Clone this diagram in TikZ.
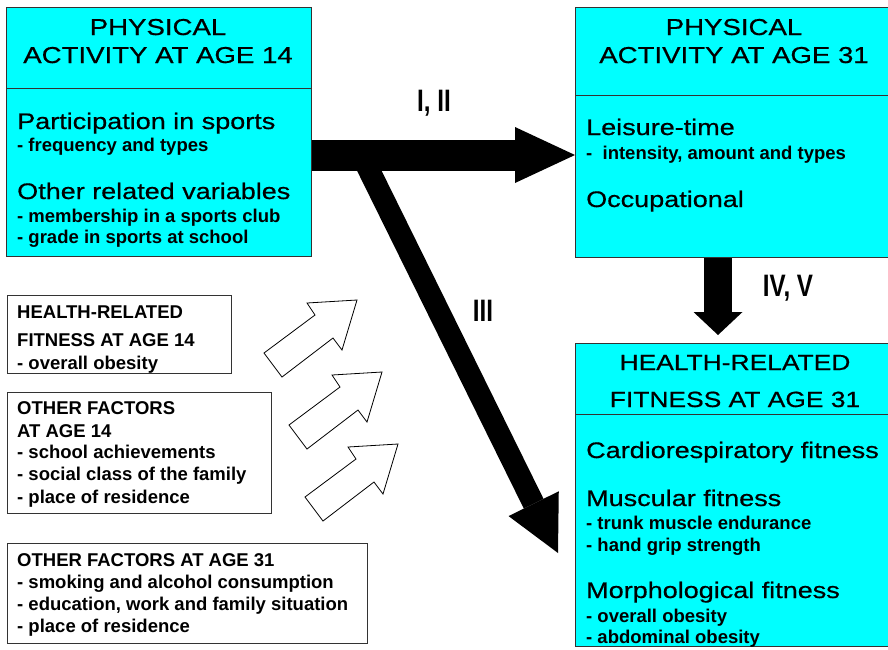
\documentclass[tikz,border=0pt]{standalone}
\usepackage{fontspec}
\setmainfont{Liberation Sans}
\newfontfamily\widesans{Liberation Sans}[FakeStretch=1.2, FakeBold=0.6]
\newfontfamily\narrowsans{Liberation Sans}[FakeStretch=0.78]
\usetikzlibrary{arrows.meta}
\definecolor{boxcyan}{RGB}{0,255,255}

\tikzset{
  cyanbox/.style={draw=black!80, line width=1pt, fill=boxcyan, inner sep=0pt, anchor=north west},
  plainbox/.style={draw=black!80, line width=1pt, fill=white, inner sep=0pt, anchor=north west},
  boxtitle/.style={font=\widesans\fontsize{23}{28}\selectfont, anchor=base, inner sep=0pt},
  hrftitle/.style={boxtitle, font=\widesans\fontsize{22}{27}\selectfont},
  boxhead/.style={font=\widesans\fontsize{22.5}{27}\selectfont, anchor=base west, inner sep=0pt},
  boxitem/.style={font=\bfseries\fontsize{18.5}{22}\selectfont, anchor=base west, inner sep=0pt},
  pathlabel/.style={font=\narrowsans\bfseries\fontsize{31}{36}\selectfont, inner sep=0pt},
  hollowarrow/.style={draw=black, line width=0.8pt, fill=white, line join=miter},
}

\begin{document}
\begin{tikzpicture}[x=1pt, y=-1pt]
\useasboundingbox (0,0) rectangle (888,649);

% boxes
\node[cyanbox, minimum width=305pt, minimum height=249pt] (pa14) at (6,7) {};
\node[cyanbox, minimum width=320pt, minimum height=250pt] (pa31) at (575,7) {};
\node[cyanbox, minimum width=320pt, minimum height=303pt] (hrf31) at (575,343) {};
\node[plainbox, minimum width=224pt, minimum height=78pt] (hrf14) at (7,295) {};
\node[plainbox, minimum width=264pt, minimum height=121pt] (oth14) at (7,392) {};
\node[plainbox, minimum width=360pt, minimum height=100pt] (oth31) at (7,543) {};
\draw[black!80, line width=1pt] ([yshift=-81pt]pa14.north west) -- ([yshift=-81pt]pa14.north east);
\draw[black!80, line width=1pt] ([yshift=-88pt]pa31.north west) -- ([yshift=-88pt]pa31.north east);
\draw[black!80, line width=1pt] ([yshift=-71pt]hrf31.north west) -- ([yshift=-71pt]hrf31.north east);

% physical activity at 14
\node[boxtitle] (pa14t1) at (158,35) {PHYSICAL};
\node[boxtitle] (pa14t2) at (158,63) {ACTIVITY AT AGE 14};
\node[boxhead] (pa14h1) at (17,129) {Participation in sports};
\node[boxitem] (pa14i1) at (17,151) {- frequency and types};
\node[boxhead] (pa14h2) at (17,199) {Other related variables};
\node[boxitem] (pa14i2) at (17,222) {- membership in a sports club};
\node[boxitem] (pa14i3) at (17,243) {- grade in sports at school};

% physical activity at 31
\node[boxtitle] (pa31t1) at (734,35) {PHYSICAL};
\node[boxtitle] (pa31t2) at (734,63) {ACTIVITY AT AGE 31};
\node[boxhead] (pa31h1) at (586,135) {Leisure-time};
\node[boxitem] (pa31i1) at (586,159) {-~ intensity, amount and types};
\node[boxhead] (pa31h2) at (586,207) {Occupational};

% fitness at 31
\node[hrftitle] (hrf31t1) at (735,370) {HEALTH-RELATED};
\node[hrftitle] (hrf31t2) at (735,407) {FITNESS AT AGE 31};
\node[boxhead] (hrf31h1) at (586,458) {Cardiorespiratory fitness};
\node[boxhead] (hrf31h2) at (586,506) {Muscular fitness};
\node[boxitem] (hrf31i1) at (586,529) {- trunk muscle endurance};
\node[boxitem] (hrf31i2) at (586,551) {- hand grip strength};
\node[boxhead] (hrf31h3) at (586,598) {Morphological fitness};
\node[boxitem] (hrf31i3) at (586,622) {- overall obesity};
\node[boxitem] (hrf31i4) at (586,643) {- abdominal obesity};

% left boxes
\node[boxitem] (hrf14a) at (17,318) {HEALTH-RELATED};
\node[boxitem] (hrf14b) at (17,346) {FITNESS AT AGE 14};
\node[boxitem] (hrf14c) at (17,369) {- overall obesity};
\node[boxitem] (oth14a) at (17,414) {OTHER FACTORS};
\node[boxitem] (oth14b) at (17,437) {AT AGE 14};
\node[boxitem] (oth14c) at (17,458) {- school achievements};
\node[boxitem] (oth14d) at (17,480) {- social class of the family};
\node[boxitem] (oth14e) at (17,503) {- place of residence};
\node[boxitem] (oth31a) at (17,566) {OTHER FACTORS AT AGE 31};
\node[boxitem] (oth31b) at (17,588) {- smoking and alcohol consumption};
\node[boxitem] (oth31c) at (17,610) {- education, work and family situation};
\node[boxitem] (oth31d) at (17,632) {- place of residence};

% paths
\coordinate (lvl) at (0,155);
\coordinate (fork) at (364,160);
\coordinate (tipiii) at (558,553);
\coordinate (ivv) at (718,0);
\draw[-{Triangle[length=60pt,width=56pt,line width=0pt]}, line width=31pt] (pa14.east |- lvl) -- (pa31.west |- lvl);
\draw[-{Triangle[length=55pt,width=56pt,line width=0pt]}, line width=22pt] (fork) -- (tipiii);
\draw[-{Triangle[length=23pt,width=49pt,line width=0pt]}, line width=28pt] (pa31.south -| ivv) -- ([yshift=8pt]hrf31.north -| ivv);
\node[pathlabel] (lbl12) at (434,103) {I, II};
\node[pathlabel] (lbl3) at (483,311) {III};
\node[pathlabel] (lbl45) at (788,288) {IV, V};

\foreach \dx/\dy in {0/0, 25/72, 41/144}
  \draw[hollowarrow, shift={(\dx,\dy)}] (264,353) -- (315,315) -- (307,303) -- (357,300) -- (342,350) -- (333,338) -- (282,377) -- cycle;
\end{tikzpicture}
\end{document}
